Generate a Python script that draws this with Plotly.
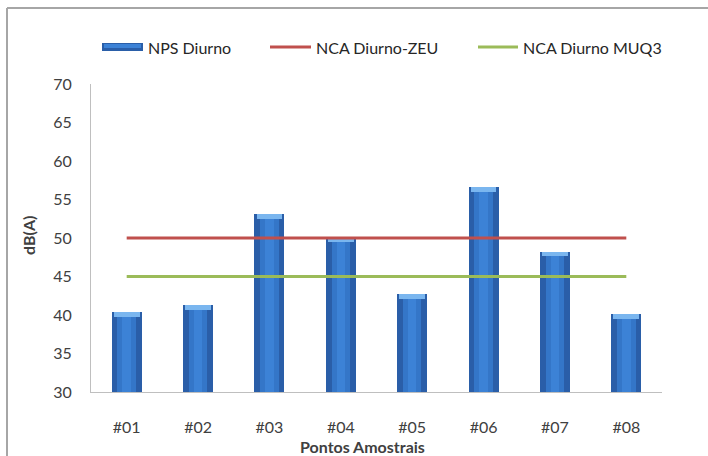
import plotly.graph_objects as go

# Sampling points and measured daytime noise levels
pontos = ["#01", "#02", "#03", "#04", "#05", "#06", "#07", "#08"]
nps_diurno = [40.4, 41.3, 53.1, 50.1, 42.7, 56.6, 48.2, 40.1]
# Reference limits
nca_zeu = [50, 50, 50, 50, 50, 50, 50, 50]
nca_muq3 = [45, 45, 45, 45, 45, 45, 45, 45]

y_ticks = [30, 35, 40, 45, 50, 55, 60, 65, 70]
series_names = ["NPS Diurno", "NCA Diurno-ZEU", "NCA Diurno MUQ3"]
x_title = "Pontos Amostrais"
y_title = "dB(A)"

W, H = 708, 456
ML, MR, MT, MB = 91, 46, 84, 64
PW, PH = W - ML - MR, H - MT - MB
FONT = "Lato, Calibri, sans-serif"
TXT = "#404040"
BAR_DARK, BAR_MID, BAR_LIGHT, BAR_CAP = "#2a5ea8", "#3476c8", "#3c82d6", "#7ab6ef"
RED, GREEN = "#c0504d", "#9bbb59"


def px_x(x):
    """Pixel column -> paper x."""
    return (x - ML) / PW


def px_y(y):
    """Pixel row (from top) -> paper y."""
    return 1 - (y - MT) / PH


fig = go.Figure()

# cylinder-like bars: dark body, lighter core, light cap
fig.add_trace(go.Bar(x=pontos, y=nps_diurno, width=0.42,
                     marker=dict(color=BAR_DARK, line=dict(width=0)),
                     name=series_names[0], showlegend=False))
fig.add_trace(go.Bar(x=pontos, y=nps_diurno, width=0.26,
                     marker=dict(color=BAR_MID, line=dict(width=0)),
                     showlegend=False, hoverinfo="skip"))
fig.add_trace(go.Bar(x=pontos, y=nps_diurno, width=0.12,
                     marker=dict(color=BAR_LIGHT, line=dict(width=0)),
                     showlegend=False, hoverinfo="skip"))
fig.add_trace(go.Bar(x=pontos, y=[0.6] * len(pontos),
                     base=[v - 0.6 for v in nps_diurno], width=0.36,
                     marker=dict(color=BAR_CAP, line=dict(width=0)),
                     showlegend=False, hoverinfo="skip"))

fig.add_trace(go.Scatter(x=pontos, y=nca_zeu, mode="lines", name=series_names[1],
                         line=dict(color=RED, width=3), showlegend=False))
fig.add_trace(go.Scatter(x=pontos, y=nca_muq3, mode="lines", name=series_names[2],
                         line=dict(color=GREEN, width=3), showlegend=False))

shapes = []
annotations = []

# outer chart frame (top and left edges)
shapes.append(dict(type="line", xref="paper", yref="paper",
                   x0=px_x(7), x1=px_x(W + 5), y0=px_y(8), y1=px_y(8),
                   line=dict(color="#a6a6a6", width=2)))
shapes.append(dict(type="line", xref="paper", yref="paper",
                   x0=px_x(7), x1=px_x(7), y0=px_y(8), y1=px_y(H + 5),
                   line=dict(color="#a6a6a6", width=2)))

# legend row
LEG_Y = 47
shapes.append(dict(type="rect", xref="paper", yref="paper",
                   x0=px_x(102), x1=px_x(143), y0=px_y(LEG_Y + 4), y1=px_y(LEG_Y - 4),
                   fillcolor=BAR_DARK, line=dict(width=0)))
shapes.append(dict(type="rect", xref="paper", yref="paper",
                   x0=px_x(104), x1=px_x(141), y0=px_y(LEG_Y + 1), y1=px_y(LEG_Y - 3),
                   fillcolor=BAR_LIGHT, line=dict(width=0)))
shapes.append(dict(type="line", xref="paper", yref="paper",
                   x0=px_x(270), x1=px_x(311), y0=px_y(LEG_Y), y1=px_y(LEG_Y),
                   line=dict(color=RED, width=3)))
shapes.append(dict(type="line", xref="paper", yref="paper",
                   x0=px_x(478), x1=px_x(518), y0=px_y(LEG_Y), y1=px_y(LEG_Y),
                   line=dict(color=GREEN, width=3)))
for name, lx in zip(series_names, [146, 314, 521]):
    annotations.append(dict(text=name, xref="paper", yref="paper",
                            x=px_x(lx), y=px_y(LEG_Y), xanchor="left", yanchor="middle",
                            showarrow=False,
                            font=dict(family=FONT, size=16, color="#262626")))

# axis titles
annotations.append(dict(text=f"<b>{x_title}</b>", xref="paper", yref="paper",
                        x=px_x(362), y=px_y(446), xanchor="center", yanchor="middle",
                        showarrow=False, font=dict(family=FONT, size=16, color=TXT)))
annotations.append(dict(text=f"<b>{y_title}</b>", xref="paper", yref="paper",
                        x=px_x(29), y=px_y(236), xanchor="center", yanchor="middle",
                        textangle=-90, showarrow=False,
                        font=dict(family=FONT, size=16, color=TXT)))

fig.update_layout(
    width=W, height=H,
    margin=dict(l=ML, r=MR, t=MT, b=MB),
    paper_bgcolor="white", plot_bgcolor="white",
    barmode="overlay", bargap=0, showlegend=False,
    font=dict(family=FONT, size=16, color=TXT),
    shapes=shapes, annotations=annotations,
    xaxis=dict(
        automargin=False,
        showgrid=False, showline=True, linecolor="#bfbfbf", linewidth=1,
        ticks="", ticklabelstandoff=21,
        tickfont=dict(family=FONT, size=16, color=TXT),
    ),
    yaxis=dict(
        automargin=False,
        range=[30, 70], tickvals=y_ticks, showgrid=False, zeroline=False,
        showline=True, linecolor="#bfbfbf", linewidth=1,
        ticks="", ticklabelstandoff=15,
        tickfont=dict(family=FONT, size=16, color=TXT),
    ),
)

fig.write_html("out.html")
